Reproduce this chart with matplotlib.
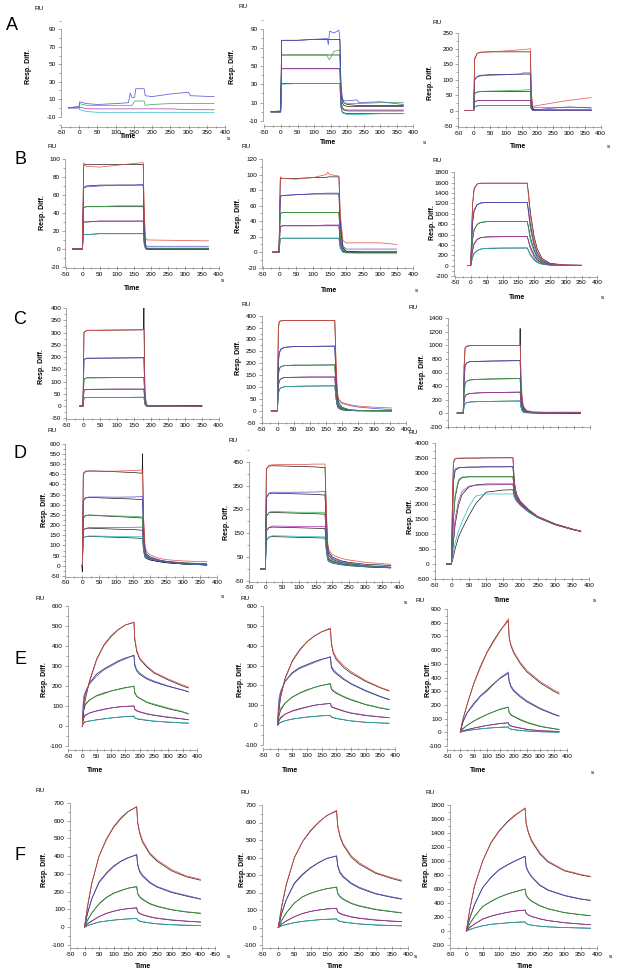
import matplotlib
matplotlib.use("Agg")
import matplotlib.pyplot as plt
from matplotlib.ticker import MultipleLocator

plt.rcParams['font.family'] = ['Liberation Sans', 'DejaVu Sans']
plt.rcParams['axes.unicode_minus'] = False

W, H = 617, 975
colors = ['#e8453c', '#4a4ad6', '#2fa83a', '#b030b0', '#22bcc4']

# ---------------- data (RU vs time in s), rows: red, blue, green, magenta, cyan
A1_t = [-30, 0, 1, 20, 50, 100, 135, 140, 145, 152, 155, 178, 181, 200, 250, 300, 305, 370]
A1_resp = [None,
           [0, 2, 7, 5, 4, 5, 6, 17, 12, 12, 22, 22, 14, 13, 16, 18, 14, 13],
           [0, 1, 5, 3, 3, 3, 3, 3, 3, 8, 8, 8, 3, 4, 5, 5, 5, 5],
           [0, 0, 1, -1, -1, -1, -1, -1, -1, -1, -1, -1, -1, -1, -1, -2, -2, -2],
           [0, 0, -2, -4, -5, -5, -5, -5, -5, -5, -5, -5, -5, -5, -5, -5, -5, -5]]
A1_fit = None

A2_t = [-30, -1, 2, 50, 100, 140, 143, 147, 160, 175, 178, 181, 185, 190, 200, 230, 235, 300, 370]
A2_resp = [None,
           [0, 1, 78, 78, 79, 80, 73, 88, 86, 89, 80, 35, 15, 12, 12, 13, 10, 11, 8],
           [0, 1, 62, 62, 62, 62, 58, 57, 66, 67, 68, 25, 12, 10, 9, 9, 9, 10, 10],
           [0, 0, 47, 47, 47, 47, 47, 47, 47, 47, 47, 12, 5, 3, 2, 2, 2, 2, 2],
           [0, 0, 30, 31, 31, 31, 31, 31, 31, 31, 31, 5, -1, -2, -3, -3, -3, -2, -2]]
A2_fit = [None,
          [0, 0, 78, 78, 79, 79, 79, 79, 79, 79, 79, 30, 14, 10, 8, 7, 7, 7, 7],
          [0, 0, 62, 62, 62, 62, 62, 62, 62, 62, 62, 22, 10, 7, 6, 6, 6, 6, 6],
          [0, 0, 47, 47, 47, 47, 47, 47, 47, 47, 47, 12, 4, 2, 1, 1, 1, 1, 1],
          [0, 0, 31, 31, 31, 31, 31, 31, 31, 31, 31, 6, 0, -1, -2, -2, -2, -2, -2]]

A3_t = [-30, -1, 2, 10, 20, 50, 100, 150, 155, 178, 181, 185, 190, 200, 250, 300, 370]
A3_resp = [[0, 0, 170, 185, 188, 190, 193, 197, 197, 200, 60, 15, 14, 16, 25, 33, 42],
           [0, 0, 100, 108, 112, 114, 116, 118, 122, 122, 40, 8, 3, 3, 8, 12, 8],
           [0, 0, 55, 60, 62, 63, 64, 66, 66, 68, 25, 12, 10, 10, 10, 10, 10],
           [0, 0, 28, 32, 33, 33, 33, 33, 33, 33, 10, 2, 1, 1, 1, 1, 1],
           [0, 0, 12, 15, 16, 16, 16, 16, 16, 16, 5, 1, 0, 0, 0, 0, 0]]
A3_fit = [[0, 0, 165, 185, 189, 190, 190, 190, 190, 190, 50, 8, 3, 2, 2, 2, 2],
          [0, 0, 100, 110, 114, 116, 117, 118, 118, 118, 35, 5, 2, 1, 1, 1, 1],
          [0, 0, 55, 60, 61, 62, 62, 62, 62, 62, 20, 4, 2, 1, 1, 1, 1],
          [0, 0, 28, 32, 33, 33, 33, 33, 33, 33, 10, 2, 1, 0, 0, 0, 0],
          [0, 0, 12, 15, 16, 16, 16, 16, 16, 16, 5, 1, 0, 0, 0, 0, 0]]

B1_t = [-30, -1, 3, 10, 50, 100, 150, 178, 181, 185, 190, 200, 370]
B1_resp = [[0, 0, 96, 92, 91, 93, 95, 96, 40, 12, 10, 10, 9],
           [0, 0, 68, 69, 70, 71, 71, 72, 25, 5, 3, 3, 3],
           [0, 0, 46, 47, 47, 48, 48, 48, 15, 3, 1, 1, 1],
           [0, 0, 30, 30, 31, 31, 31, 31, 10, 1, 0, 0, 0],
           [0, 0, 16, 16, 17, 17, 17, 17, 5, 0, 0, 0, 0]]
B1_fit = [[0, 0, 93, 94, 94, 94, 94, 94, 30, 3, 0, 0, 0],
          [0, 0, 68, 70, 71, 71, 71, 71, 22, 2, 0, 0, 0],
          [0, 0, 46, 47, 47, 47, 47, 47, 14, 1, 0, 0, 0],
          [0, 0, 30, 30, 31, 31, 31, 31, 9, 1, 0, 0, 0],
          [0, 0, 16, 16, 17, 17, 17, 17, 5, 0, 0, 0, 0]]

B2_t = [-20, -1, 3, 10, 50, 100, 140, 145, 150, 178, 182, 190, 200, 250, 300, 350]
B2_resp = [[0, 0, 97, 95, 94, 96, 100, 103, 100, 98, 50, 15, 12, 12, 12, 10],
           [0, 0, 72, 73, 74, 75, 76, 76, 76, 76, 35, 8, 4, 4, 4, 4],
           [0, 0, 50, 51, 51, 51, 51, 51, 51, 51, 20, 3, 0, 0, 0, 0],
           [0, 0, 33, 34, 34, 34, 35, 35, 35, 35, 12, 1, 0, 0, 0, 0],
           [0, 0, 17, 18, 18, 18, 18, 18, 18, 18, 6, 0, -1, -2, -2, -2]]
B2_fit = [[0, 0, 95, 95, 95, 96, 96, 97, 97, 97, 40, 6, 1, 0, 0, 0],
          [0, 0, 72, 73, 74, 75, 75, 75, 75, 75, 30, 5, 1, 0, 0, 0],
          [0, 0, 50, 51, 51, 51, 51, 51, 51, 51, 18, 2, 0, 0, 0, 0],
          [0, 0, 33, 34, 34, 34, 34, 34, 34, 34, 11, 1, 0, 0, 0, 0],
          [0, 0, 17, 18, 18, 18, 18, 18, 18, 18, 5, 0, 0, 0, 0, 0]]

B3_t = [-10, -1, 2, 5, 10, 20, 30, 50, 100, 150, 178, 182, 186, 190, 200, 210, 225, 250, 300, 350]
B3_resp = [[0, 0, 600, 1200, 1500, 1580, 1590, 1590, 1590, 1590, 1590, 1350, 1050, 850, 480, 260, 110, 35, 15, 10],
           [0, 0, 400, 850, 1080, 1180, 1210, 1220, 1220, 1220, 1220, 1030, 800, 650, 370, 200, 85, 28, 12, 8],
           [0, 0, 250, 520, 700, 800, 835, 850, 850, 850, 850, 720, 560, 450, 255, 140, 60, 20, 8, 5],
           [0, 0, 150, 300, 430, 510, 540, 555, 560, 560, 560, 470, 370, 300, 170, 90, 40, 12, 5, 3],
           [0, 0, 80, 160, 240, 295, 320, 335, 340, 340, 340, 280, 220, 180, 100, 55, 25, 8, 3, 2]]
B3_fit = [[0, 0, 620, 1180, 1480, 1575, 1588, 1590, 1590, 1590, 1590, 1400, 1150, 950, 560, 320, 140, 45, 10, 5],
          [0, 0, 420, 830, 1060, 1175, 1205, 1218, 1220, 1220, 1220, 1070, 880, 720, 430, 240, 105, 35, 8, 4],
          [0, 0, 260, 510, 690, 795, 830, 848, 850, 850, 850, 750, 610, 500, 300, 170, 75, 25, 6, 3],
          [0, 0, 160, 295, 420, 505, 537, 553, 558, 560, 560, 490, 400, 330, 200, 110, 50, 16, 4, 2],
          [0, 0, 85, 160, 235, 290, 318, 333, 338, 340, 340, 295, 240, 200, 120, 65, 30, 10, 3, 1]]

C1_t = [-10, -1, 2, 10, 100, 176, 178, 179, 182, 186, 200, 250, 350]
C1_resp = [[0, 0, 300, 308, 310, 311, 312, 312, 60, 5, 1, 0, 0],
           [0, 0, 190, 195, 196, 197, 198, 198, 40, 3, 1, 0, -1],
           [0, 0, 110, 115, 116, 117, 117, 117, 25, 2, 0, 0, -2],
           [0, 0, 65, 68, 69, 69, 69, 69, 15, 1, 0, 0, -2],
           [0, 0, 33, 35, 35, 36, 36, 36, 8, 0, 0, -1, -3]]
C1_fit = [[0, 0, 300, 309, 310, 311, 312, 400, 60, 4, 0, 0, 0],
          [0, 0, 190, 195, 196, 197, 198, 198, 38, 2, 0, 0, 0],
          [0, 0, 110, 115, 116, 117, 117, 117, 22, 1, 0, 0, 0],
          [0, 0, 65, 68, 69, 69, 69, 69, 13, 1, 0, 0, 0],
          [0, 0, 33, 35, 35, 36, 36, 36, 7, 0, 0, 0, 0]]

C2_t = [-20, -1, 2, 5, 10, 20, 50, 100, 178, 182, 186, 190, 200, 225, 250, 300, 355]
C2_resp = [[0, 0, 340, 375, 378, 380, 380, 380, 380, 200, 80, 50, 35, 25, 20, 15, 12],
           [0, 0, 200, 240, 258, 266, 270, 271, 272, 140, 65, 45, 32, 22, 16, 10, 5],
           [0, 0, 150, 175, 185, 190, 192, 192, 193, 100, 40, 25, 12, 4, 2, 1, 1],
           [0, 0, 100, 125, 134, 140, 141, 142, 142, 70, 30, 18, 8, 3, 1, 0, 0],
           [0, 0, 70, 88, 96, 101, 103, 104, 105, 50, 22, 12, 5, 2, 0, 0, 0]]
C2_fit = [[0, 0, 350, 376, 378, 380, 380, 380, 380, 180, 60, 35, 15, 4, 2, 1, 0],
          [0, 0, 210, 245, 260, 267, 270, 271, 272, 130, 45, 25, 10, 3, 1, 0, 0],
          [0, 0, 150, 178, 186, 190, 192, 192, 193, 90, 32, 18, 7, 2, 1, 0, 0],
          [0, 0, 105, 127, 135, 140, 141, 142, 142, 65, 24, 13, 5, 1, 0, 0, 0],
          [0, 0, 72, 90, 97, 101, 103, 104, 105, 48, 18, 10, 4, 1, 0, 0, 0]]

C3_t = [-20, -1, 2, 5, 10, 20, 50, 100, 176, 178, 179, 182, 186, 190, 200, 220, 250, 300, 370]
C3_resp = [[0, 0, 700, 970, 990, 1000, 1000, 1000, 1000, 1000, 1000, 500, 200, 100, 40, 20, 15, 15, 15],
           [0, 0, 500, 700, 740, 760, 765, 770, 775, 775, 775, 380, 150, 80, 30, 15, 10, 10, 10],
           [0, 0, 300, 440, 470, 490, 500, 505, 510, 510, 510, 250, 100, 50, 20, 10, 5, 5, 10],
           [0, 0, 180, 250, 275, 290, 300, 305, 310, 310, 310, 150, 60, 30, 12, 5, 5, 5, 5],
           [0, 0, 100, 140, 155, 165, 170, 175, 180, 180, 180, 90, 35, 18, 8, 3, 3, 3, 5]]
C3_fit = [[0, 0, 700, 960, 985, 995, 1000, 1000, 1000, 1000, 1250, 400, 150, 70, 25, 10, 5, 5, 5],
          [0, 0, 500, 700, 740, 760, 765, 770, 775, 775, 775, 350, 130, 60, 20, 8, 4, 3, 3],
          [0, 0, 300, 440, 470, 490, 500, 505, 510, 510, 510, 230, 85, 40, 14, 6, 3, 2, 2],
          [0, 0, 180, 250, 275, 290, 300, 305, 310, 310, 310, 140, 50, 24, 9, 4, 2, 1, 1],
          [0, 0, 100, 140, 155, 165, 170, 175, 180, 180, 180, 80, 30, 14, 5, 2, 1, 1, 1]]

D1_t = [-1, 0, 3, 10, 20, 50, 100, 150, 176, 178, 179, 182, 186, 190, 200, 225, 250, 300, 370]
D1_resp = [[0, 0, 450, 462, 465, 465, 465, 468, 470, 470, 470, 250, 110, 75, 55, 38, 30, 24, 20],
           [0, 0, 320, 332, 338, 338, 337, 338, 340, 340, 340, 180, 80, 55, 42, 28, 20, 12, 5],
           [0, 0, 235, 245, 250, 248, 245, 243, 240, 240, 240, 130, 65, 50, 38, 27, 20, 12, 5],
           [0, 0, 175, 183, 188, 188, 188, 189, 190, 190, 190, 100, 55, 45, 35, 25, 20, 12, 5],
           [0, 0, 135, 143, 147, 146, 144, 143, 143, 143, 143, 80, 45, 40, 33, 25, 18, 10, 5]]
D1_fit = [[0, -30, 455, 465, 466, 465, 462, 458, 455, 455, 550, 230, 90, 60, 45, 30, 22, 15, 10],
          [0, 0, 320, 335, 336, 334, 331, 328, 325, 325, 325, 170, 75, 50, 38, 25, 18, 10, 5],
          [0, 0, 235, 248, 249, 246, 242, 238, 235, 235, 235, 125, 60, 45, 34, 24, 17, 10, 4],
          [0, 0, 175, 184, 185, 183, 180, 178, 175, 175, 175, 95, 50, 40, 31, 22, 16, 9, 4],
          [0, 0, 135, 144, 145, 143, 140, 137, 135, 135, 135, 75, 42, 36, 29, 21, 15, 9, 4]]

D2_t = [-15, -1, 2, 10, 20, 50, 100, 150, 178, 182, 186, 190, 200, 225, 250, 300, 375]
D2_resp = [[0, 0, 420, 435, 437, 438, 438, 440, 440, 250, 110, 80, 60, 45, 38, 28, 20],
           [0, 0, 300, 318, 322, 322, 322, 323, 325, 180, 80, 60, 45, 32, 25, 15, 8],
           [0, 0, 220, 238, 242, 240, 238, 238, 238, 130, 60, 45, 35, 25, 20, 13, 8],
           [0, 0, 160, 175, 180, 180, 178, 178, 178, 100, 50, 40, 32, 23, 18, 12, 7],
           [0, 0, 120, 135, 140, 139, 137, 136, 135, 80, 40, 33, 27, 20, 16, 10, 6]]
D2_fit = [[0, 0, 420, 432, 433, 432, 430, 428, 425, 230, 100, 70, 50, 35, 28, 20, 15],
          [0, 0, 300, 316, 318, 317, 315, 313, 310, 170, 75, 55, 40, 28, 22, 13, 7],
          [0, 0, 220, 236, 238, 236, 234, 232, 230, 125, 55, 42, 32, 23, 18, 11, 6],
          [0, 0, 160, 174, 176, 175, 173, 171, 170, 95, 47, 37, 30, 21, 16, 10, 5],
          [0, 0, 120, 134, 136, 135, 133, 131, 130, 75, 38, 31, 25, 18, 14, 9, 5]]

D3_t = [-15, -1, 2, 5, 10, 20, 30, 50, 70, 100, 150, 178, 182, 186, 190, 200, 225, 250, 300, 350, 375]
D3_resp = [[0, 0, 2000, 3400, 3500, 3510, 3510, 3510, 3510, 3520, 3520, 3520, 2700, 2400, 2250, 2050, 1780, 1570, 1330, 1160, 1090],
           [0, 0, 1300, 2800, 3150, 3200, 3200, 3210, 3210, 3220, 3220, 3220, 2600, 2350, 2200, 2020, 1760, 1560, 1320, 1150, 1080],
           [0, 0, 700, 1500, 2300, 2800, 2880, 2890, 2890, 2890, 2890, 2890, 2450, 2280, 2150, 1990, 1740, 1550, 1310, 1150, 1080],
           [0, 0, 350, 800, 1500, 2100, 2400, 2580, 2610, 2620, 2630, 2630, 2350, 2220, 2100, 1960, 1720, 1540, 1300, 1140, 1080],
           [0, 0, 150, 400, 700, 1100, 1400, 1900, 2250, 2320, 2320, 2320, 2200, 2120, 2050, 1930, 1700, 1530, 1300, 1140, 1080]]
D3_fit = [[0, 0, 1900, 3350, 3480, 3500, 3505, 3510, 3510, 3515, 3520, 3520, 2750, 2450, 2280, 2070, 1790, 1575, 1330, 1160, 1090],
          [0, 0, 1200, 2700, 3100, 3180, 3200, 3210, 3210, 3220, 3220, 3230, 2650, 2380, 2220, 2030, 1770, 1565, 1322, 1152, 1082],
          [0, 0, 650, 1450, 2200, 2750, 2860, 2890, 2890, 2890, 2890, 2890, 2480, 2300, 2170, 2000, 1750, 1555, 1315, 1150, 1080],
          [0, 0, 300, 700, 1300, 1950, 2300, 2550, 2620, 2650, 2650, 2650, 2380, 2240, 2120, 1970, 1730, 1545, 1305, 1145, 1080],
          [0, 0, 100, 250, 500, 900, 1150, 1600, 2000, 2380, 2450, 2460, 2250, 2150, 2070, 1950, 1720, 1540, 1310, 1150, 1080]]

E1_t = [0, 2, 5, 10, 25, 50, 75, 100, 125, 150, 180, 183, 190, 200, 225, 250, 300, 350, 370]
E1_resp = [[0, 60, 100, 140, 220, 330, 400, 445, 480, 505, 520, 440, 380, 340, 300, 270, 235, 205, 195],
           [0, 100, 150, 170, 210, 250, 280, 300, 320, 335, 355, 310, 280, 265, 240, 225, 200, 180, 172],
           [0, 60, 100, 110, 130, 150, 160, 175, 182, 190, 200, 170, 150, 140, 120, 110, 90, 72, 62],
           [0, 30, 50, 55, 65, 75, 82, 90, 95, 98, 100, 85, 78, 72, 62, 55, 45, 36, 32],
           [0, 10, 20, 22, 25, 30, 35, 40, 44, 47, 50, 42, 38, 35, 30, 25, 20, 16, 15]]
E1_fit = [[0, 40, 80, 130, 225, 335, 405, 450, 482, 505, 518, 430, 370, 335, 295, 265, 230, 200, 190],
          [0, 60, 120, 160, 215, 260, 285, 305, 325, 340, 352, 300, 275, 258, 235, 220, 198, 180, 170],
          [0, 40, 80, 105, 130, 152, 165, 175, 184, 192, 198, 165, 148, 138, 118, 106, 86, 70, 60],
          [0, 20, 40, 52, 65, 76, 84, 90, 95, 98, 100, 82, 75, 70, 60, 53, 43, 35, 31],
          [0, 8, 15, 20, 25, 31, 36, 40, 44, 47, 49, 40, 36, 33, 28, 24, 19, 15, 14]]

E2_t = [0, 2, 5, 10, 25, 50, 75, 100, 125, 150, 180, 183, 190, 200, 225, 250, 300, 350, 380]
E2_resp = [[0, 60, 100, 150, 230, 320, 375, 420, 450, 470, 490, 420, 370, 340, 300, 270, 225, 190, 175],
           [0, 90, 140, 170, 220, 260, 285, 300, 315, 330, 345, 300, 280, 265, 235, 210, 175, 145, 130],
           [0, 40, 70, 85, 110, 140, 160, 175, 190, 200, 210, 185, 175, 165, 145, 130, 105, 88, 80],
           [0, 15, 30, 40, 55, 70, 80, 90, 100, 105, 110, 95, 90, 85, 72, 62, 50, 42, 38],
           [0, 5, 10, 15, 22, 30, 35, 40, 44, 47, 50, 42, 40, 35, 28, 22, 15, 11, 10]]
E2_fit = [[0, 40, 80, 140, 235, 325, 380, 420, 448, 470, 485, 410, 360, 330, 290, 262, 220, 188, 172],
          [0, 60, 110, 160, 220, 265, 290, 305, 320, 332, 342, 290, 272, 258, 230, 207, 172, 143, 128],
          [0, 25, 50, 75, 110, 142, 162, 178, 190, 200, 208, 180, 170, 160, 142, 127, 103, 86, 78],
          [0, 10, 22, 35, 55, 72, 83, 92, 100, 105, 109, 92, 87, 82, 70, 60, 48, 41, 37],
          [0, 4, 8, 13, 22, 31, 36, 41, 44, 47, 49, 40, 37, 33, 27, 21, 14, 11, 9]]

E3_t = [0, 5, 10, 25, 50, 75, 100, 125, 150, 180, 183, 190, 200, 225, 250, 300, 350, 370]
E3_resp = [[0, 60, 100, 200, 350, 470, 580, 660, 740, 830, 700, 640, 590, 510, 450, 370, 310, 290],
           [0, 50, 80, 140, 200, 260, 300, 350, 400, 440, 380, 340, 310, 265, 230, 175, 135, 120],
           [0, 15, 30, 50, 80, 105, 130, 150, 170, 185, 150, 130, 120, 95, 75, 45, 28, 22],
           [0, 8, 12, 20, 30, 40, 50, 58, 65, 70, 55, 48, 42, 32, 22, 12, 8, 5],
           [0, 5, 8, 12, 20, 25, 30, 34, 37, 40, 30, 25, 20, 14, 10, 4, 2, 0]]
E3_fit = [[0, 50, 95, 200, 355, 480, 585, 670, 745, 815, 690, 630, 580, 500, 440, 360, 300, 280],
          [0, 40, 75, 140, 210, 265, 310, 355, 395, 430, 370, 330, 300, 258, 222, 170, 130, 118],
          [0, 12, 25, 50, 82, 108, 130, 150, 168, 182, 145, 126, 115, 90, 70, 42, 26, 20],
          [0, 6, 10, 19, 31, 41, 50, 57, 64, 69, 52, 45, 40, 30, 21, 11, 7, 4],
          [0, 4, 7, 12, 19, 25, 30, 33, 36, 39, 28, 23, 19, 13, 9, 4, 2, 1]]

F1_t = [0, 5, 10, 25, 50, 75, 100, 125, 150, 180, 183, 190, 200, 225, 250, 300, 350, 400]
F1_resp = [[0, 60, 120, 250, 400, 490, 560, 610, 650, 680, 600, 540, 490, 420, 380, 325, 290, 270],
           [0, 40, 80, 160, 250, 300, 340, 370, 390, 410, 360, 320, 295, 255, 230, 200, 180, 160],
           [0, 20, 40, 80, 130, 165, 190, 205, 220, 230, 195, 175, 160, 135, 120, 100, 88, 80],
           [0, 10, 20, 35, 60, 78, 90, 100, 105, 110, 90, 80, 72, 60, 52, 42, 35, 30],
           [0, 5, 10, 18, 30, 35, 40, 44, 47, 50, 42, 36, 32, 25, 20, 15, 12, 10]]
F1_fit = [[0, 55, 110, 245, 400, 495, 565, 615, 652, 678, 590, 530, 480, 412, 372, 318, 285, 265],
          [0, 35, 75, 160, 255, 305, 345, 372, 392, 408, 352, 312, 288, 250, 226, 196, 176, 158],
          [0, 18, 38, 80, 132, 168, 192, 207, 220, 228, 190, 170, 156, 132, 117, 98, 86, 78],
          [0, 9, 19, 35, 60, 78, 90, 99, 105, 109, 87, 77, 70, 58, 50, 40, 34, 29],
          [0, 4, 9, 17, 29, 35, 40, 44, 47, 49, 40, 34, 30, 24, 19, 14, 11, 9]]

F2_t = [0, 5, 10, 25, 50, 75, 100, 125, 150, 180, 183, 190, 200, 225, 250, 300, 350, 380]
F2_resp = [[0, 60, 120, 250, 400, 490, 550, 600, 640, 670, 590, 530, 480, 410, 370, 315, 285, 270],
           [0, 40, 80, 160, 250, 300, 340, 370, 395, 410, 360, 320, 295, 255, 230, 195, 175, 165],
           [0, 20, 40, 85, 140, 175, 195, 210, 222, 232, 200, 180, 165, 140, 125, 105, 92, 85],
           [0, 10, 20, 38, 62, 80, 92, 100, 106, 110, 92, 82, 75, 62, 54, 44, 37, 34],
           [0, 5, 10, 18, 28, 35, 40, 44, 47, 50, 42, 37, 33, 26, 21, 15, 12, 10]]
F2_fit = [[0, 55, 110, 245, 400, 492, 555, 603, 640, 665, 580, 520, 472, 402, 362, 310, 280, 265],
          [0, 35, 75, 160, 255, 305, 343, 372, 395, 408, 352, 312, 288, 250, 225, 192, 172, 162],
          [0, 18, 38, 84, 140, 176, 196, 211, 222, 230, 195, 176, 161, 137, 122, 102, 90, 83],
          [0, 9, 19, 37, 62, 80, 92, 100, 106, 109, 89, 79, 72, 60, 52, 42, 36, 33],
          [0, 4, 9, 17, 28, 35, 40, 44, 47, 49, 40, 35, 31, 25, 20, 14, 11, 9]]

F3_t = [0, 5, 10, 25, 50, 75, 100, 125, 150, 180, 183, 190, 200, 225, 250, 300, 350, 380]
F3_resp = [[0, 150, 300, 650, 1000, 1250, 1420, 1550, 1650, 1760, 1550, 1420, 1300, 1120, 1000, 870, 810, 780],
           [0, 90, 180, 380, 620, 760, 870, 940, 1000, 1070, 930, 850, 780, 660, 590, 510, 460, 440],
           [0, 50, 100, 210, 350, 420, 480, 525, 560, 600, 520, 470, 430, 365, 320, 265, 235, 220],
           [0, 25, 50, 100, 170, 210, 240, 265, 285, 300, 255, 230, 210, 175, 150, 120, 100, 90],
           [0, 10, 20, 45, 75, 95, 105, 115, 125, 130, 110, 95, 85, 70, 60, 50, 44, 40]]
F3_fit = [[0, 140, 290, 640, 1000, 1260, 1430, 1560, 1660, 1750, 1530, 1400, 1280, 1100, 985, 860, 800, 775],
          [0, 85, 175, 375, 620, 765, 875, 945, 1005, 1065, 915, 840, 770, 650, 582, 505, 455, 436],
          [0, 48, 98, 208, 350, 422, 482, 527, 562, 598, 512, 463, 424, 360, 316, 262, 232, 218],
          [0, 24, 48, 98, 170, 212, 242, 266, 285, 298, 250, 226, 206, 172, 148, 118, 99, 89],
          [0, 10, 20, 44, 74, 95, 106, 116, 125, 129, 107, 92, 83, 68, 59, 49, 43, 39]]


def fig_px(x, y):
    return x / W, 1 - y / H


def add_panel(fig, t, resp, fit, xt, xp, yt, yp, xlim, ylim, yticks, yminor,
              xend=400, xlabels=True):
    """place an axes so data (xt, yt) lands on pixels (xp, yp)."""
    sx = (xp[1] - xp[0]) / (xt[1] - xt[0])
    sy = (yp[1] - yp[0]) / (yt[1] - yt[0])
    left = xp[0] + (xlim[0] - xt[0]) * sx
    right = xp[0] + (xlim[1] - xt[0]) * sx
    top = yp[0] + (ylim[1] - yt[0]) * sy
    bottom = yp[0] + (ylim[0] - yt[0]) * sy
    ax = fig.add_axes([left / W, 1 - bottom / H, (right - left) / W, (bottom - top) / H])
    ax.set_xlim(xlim)
    ax.set_ylim(ylim)
    # black fitted curves below, measured curves on top
    if fit is not None:
        for i in range(5):
            if fit[i] is not None:
                ax.plot(t, fit[i], color='#1a1a1a', lw=0.5)
    for i in range(4, -1, -1):
        if resp[i] is not None:
            ax.plot(t, resp[i], color=colors[i], lw=0.55, alpha=0.9)
    ax.spines['top'].set_visible(False)
    ax.spines['right'].set_visible(False)
    for s in ('left', 'bottom'):
        ax.spines[s].set_linewidth(0.4)
        ax.spines[s].set_color('#666666')
    ax.spines['left'].set_bounds(yticks[0], yticks[-1])
    ax.spines['bottom'].set_bounds(-50, xend)
    ax.set_yticks(yticks)
    ax.yaxis.set_minor_locator(MultipleLocator(yminor))
    ax.set_xticks(list(range(-50, xend + 1, 50)))
    ax.xaxis.set_minor_locator(MultipleLocator(25))
    ax.tick_params(which='both', labelsize=4.6, width=0.4, color='#666666', pad=1.5)
    ax.tick_params(which='major', length=2.2)
    ax.tick_params(which='minor', length=1.3)
    ax.tick_params(axis='x', which='both', direction='inout')
    if not xlabels:
        ax.tick_params(axis='x', labelbottom=False)
    return ax


fig = plt.figure(figsize=(W / 100, H / 100), dpi=100)

add_panel(fig, A1_t, A1_resp, A1_fit, (-50, 400), (61, 225), (90, -10), (29.3, 116.7),
          (-50, 405), (-21.4, 101), [-10, 10, 30, 50, 70, 90], 10)
add_panel(fig, A2_t, A2_resp, A2_fit, (0, 400), (281, 413.3), (90, -10), (29.3, 121),
          (-53.5, 405), (-15.5, 101), [-10, 10, 30, 50, 70, 90], 10)
add_panel(fig, A3_t, A3_resp, A3_fit, (0, 400), (474, 600.7), (250, -50), (33.3, 126),
          (-50, 405), (-53, 252), list(range(-50, 251, 50)), 25)

add_panel(fig, B1_t, B1_resp, B1_fit, (0, 400), (82.7, 218.7), (100, -20), (159, 267),
          (-51, 405), (-21, 101), list(range(-20, 101, 20)), 10)
add_panel(fig, B2_t, B2_resp, B2_fit, (0, 400), (279.3, 413.3), (120, -20), (159, 267.7),
          (-51, 405), (-21, 121), list(range(-20, 121, 20)), 10)
add_panel(fig, B3_t, B3_resp, B3_fit, (0, 400), (471, 597.3), (1800, -200), (172.3, 276),
          (-55, 405), (-213, 1810), list(range(-200, 1801, 200)), 100)

add_panel(fig, C1_t, C1_resp, C1_fit, (0, 400), (82.7, 218.7), (400, -50), (308, 418.3),
          (-48, 405), (-53, 402), list(range(-50, 401, 50)), 25)
add_panel(fig, C2_t, C2_resp, C2_fit, (0, 400), (277.7, 406), (400, -50), (315.7, 422.7),
          (-50, 405), (-52.5, 402), list(range(-50, 401, 50)), 25)
add_panel(fig, C3_t, C3_resp, C3_fit, (-50, 400), (447.7, 590), (1400, -200), (318.3, 426.7),
          (-50, 405), (-203, 1410), list(range(-200, 1401, 200)), 100, xlabels=False)

add_panel(fig, D1_t, D1_resp, D1_fit, (0, 350), (82.3, 200), (500, -50), (464, 576),
          (-50.6, 405), (-53, 602), list(range(-50, 601, 50)), 25)
add_panel(fig, D2_t, D2_resp, D2_fit, (0, 400), (265.7, 399), (450, -50), (461.7, 581),
          (-50, 405), (-53, 502), list(range(-50, 451, 100)), 50)
add_panel(fig, D3_t, D3_resp, D3_fit, (0, 400), (451.7, 589.3), (4000, -500), (443.3, 579),
          (-50, 405), (-510, 4010), list(range(-500, 4001, 500)), 250)

add_panel(fig, E1_t, E1_resp, E1_fit, (-50, 400), (68, 197), (600, -100), (606, 746),
          (-50, 405), (-120, 605), list(range(-100, 601, 100)), 50)
add_panel(fig, E2_t, E2_resp, E2_fit, (-50, 400), (263, 395), (600, -100), (606, 745),
          (-50, 405), (-120, 605), list(range(-100, 601, 100)), 50)
add_panel(fig, E3_t, E3_resp, E3_fit, (-50, 400), (447, 567), (900, -100), (609, 746),
          (-50, 405), (-130, 905), list(range(-100, 901, 100)), 50)

add_panel(fig, F1_t, F1_resp, F1_fit, (-50, 450), (70, 215), (700, -100), (803, 945),
          (-50, 455), (-117, 705), list(range(-100, 701, 100)), 50, xend=450)
add_panel(fig, F2_t, F2_resp, F2_fit, (-50, 400), (262, 408), (700, -100), (805, 945),
          (-50, 405), (-117, 705), list(range(-100, 701, 100)), 50)
add_panel(fig, F3_t, F3_resp, F3_fit, (-50, 400), (450, 597), (1800, -200), (805, 945),
          (-50, 405), (-243, 1810), list(range(-200, 1801, 200)), 100)

# panel letters
for letter, (x, y) in zip('ABCDEF', [(12, 25), (20, 160), (20, 320), (20, 453), (20, 660), (20, 855)]):
    fig.text(*fig_px(x, y), letter, fontsize=13, ha='center', va='center')

# "RU" labels
for x, y in [(39, 9), (243, 7), (437, 23), (52, 146), (246, 147), (437, 161),
             (246, 305), (413, 307), (52, 431), (233, 440), (413, 433),
             (40, 598), (245, 598), (420, 600), (40, 790), (245, 793), (430, 793)]:
    fig.text(*fig_px(x, y), 'RU', fontsize=4.6, ha='center', va='center')

# y axis titles
for x, y in [(29, 67), (233, 67), (431, 83), (43, 213), (239, 216), (432, 223),
             (42, 367), (238, 358), (422, 372), (45, 510), (226, 523), (411, 517),
             (45, 680), (240, 680), (428, 680), (45, 870), (242, 870), (427, 870)]:
    fig.text(*fig_px(x, y), 'Resp. Diff.', fontsize=5, fontweight='bold', rotation=90,
             ha='center', va='center')

# x axis titles
for x, y in [(128, 137), (328, 142), (518, 146), (132, 289), (329, 290), (517, 298),
             (502, 600), (95, 770), (290, 770), (478, 770), (143, 967), (335, 967), (525, 967)]:
    fig.text(*fig_px(x, y), 'Time', fontsize=5, fontweight='bold', ha='center', va='center')

# unit "s"
for x, y in [(228, 138), (424, 143), (608, 146), (222, 280), (416, 290), (602, 298),
             (222, 597), (405, 603), (594, 600), (592, 773), (228, 957), (415, 957), (610, 957)]:
    fig.text(*fig_px(x, y), 's', fontsize=4.6, ha='center', va='center')

fig.savefig('out.png', dpi=100)
